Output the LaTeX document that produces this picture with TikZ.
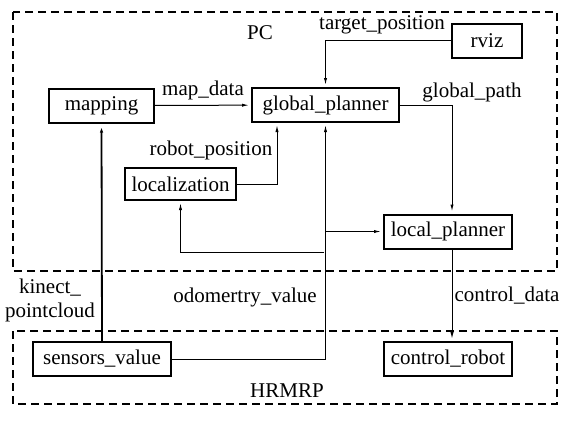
\documentclass[tikz,border=0pt]{standalone}
\usepackage{fontspec}
\setmainfont{Liberation Serif}
\usetikzlibrary{arrows.meta}

\begin{document}
\begin{tikzpicture}[
  x=0.5pt, y=-0.5pt,
  >={Latex[length=3.5pt, width=1.6pt]},
  font=\fontsize{10.5}{12}\selectfont,
  block/.style={draw, line width=1pt, minimum height=17pt, inner sep=0pt},
  link/.style={->, line width=0.5pt, shorten >=1pt},
  zone/.style={draw, line width=0.9pt, dash pattern=on 4pt off 2.5pt}
]
\useasboundingbox (0,0) rectangle (567,420);

% ── Zones ──
\draw[zone] (13,12) rectangle (557,271);
\draw[zone] (13,331) rectangle (557,404);
\node (pc) at (260,33) {PC};
\node (hrmrp) at (287,391) {HRMRP};

% ── Blocks ──
\node[block, minimum width=52.5pt] (mapping) at (101.5,105.5) {mapping};
\node[block, minimum width=73.5pt] (gplanner) at (325.5,105) {global\_planner};
\node[block, minimum width=55.5pt, minimum height=16pt] (localization) at (180.5,184) {localization};
\node[block, minimum width=35pt] (rviz) at (487,40.5) {rviz};
\node[block, minimum width=64pt] (lplanner) at (448,231.5) {local\_planner};
\node[block, minimum width=64pt] (crobot) at (448,359) {control\_robot};
\node[block, minimum width=69pt] (sensors) at (102,359) {sensors\_value};

% ── Connectors ──
\draw[link] (mapping) -- (gplanner);
\draw[link] (rviz.west) -| (gplanner.north);
\draw[link] (localization.east) -| ([xshift=-24.25pt]gplanner.south);
\draw[link] (gplanner.east) -| ([xshift=2pt]lplanner.north);
\draw[link] ([xshift=2pt]lplanner.south) -- ([xshift=2pt]crobot.north);
\draw[link, line width=0.9pt] (sensors.north) -- (mapping.south);
\draw[link] (sensors.east) -| (gplanner.south);
\coordinate (odo) at (324,252);
\draw[link] (lplanner.west -| gplanner.south) -- (lplanner.west);
\draw[link] (odo) -| (localization.south);

% ── Labels ──
\node (mapdata) at (203,90) {map\_data};
\node (robotpos) at (211,150) {robot\_position};
\node (targetpos) at (382,25) {target\_position};
\node (globalpath) at (472,92) {global\_path};
\node[align=center, inner sep=0pt] (kinect) at (50,300) {kinect\_\\pointcloud};
\node (odomv) at (245,297) {odomertry\_value};
\node (controldata) at (507,296) {control\_data};

\end{tikzpicture}
\end{document}
